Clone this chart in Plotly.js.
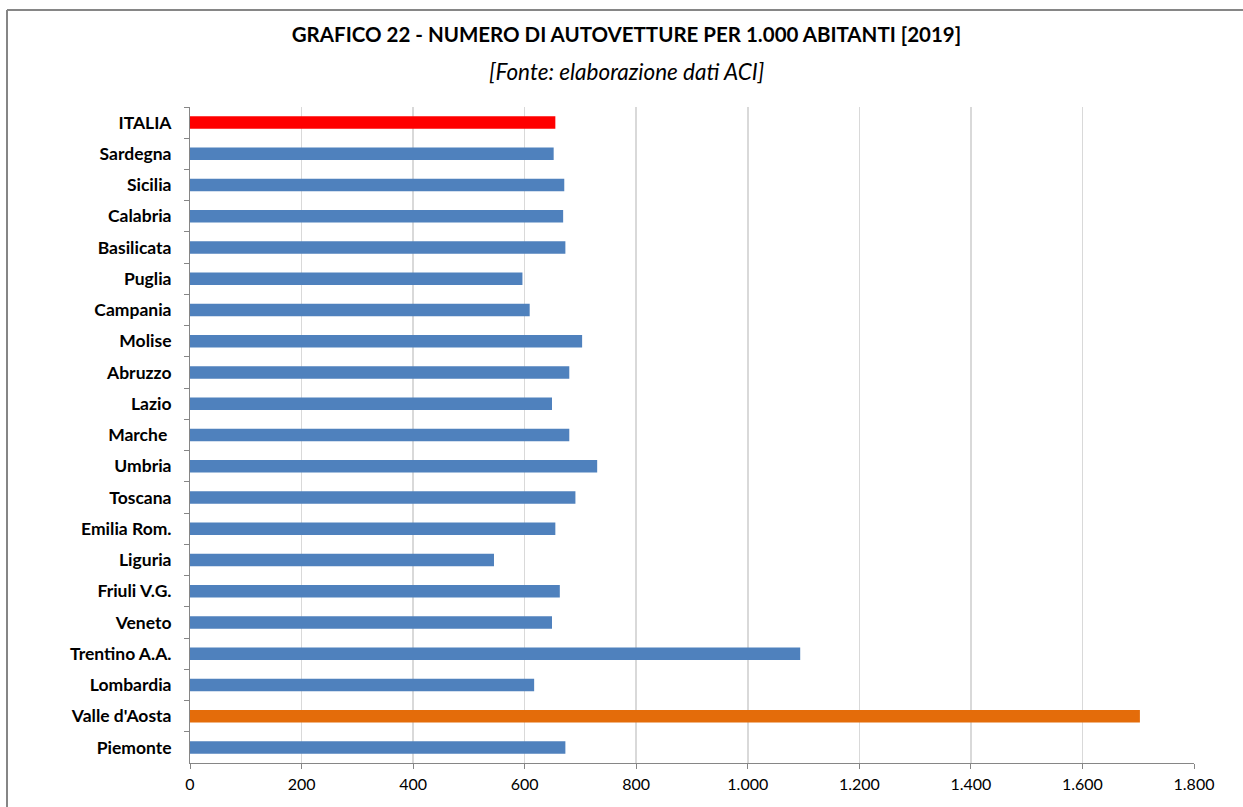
<!DOCTYPE html>
<html>
<head>
<meta charset="utf-8">
<script src="https://cdn.plot.ly/plotly-3.0.1.min.js"></script>
<style>
  html, body { margin: 0; padding: 0; background: #ffffff; }
  #chart { width: 1243px; height: 807px; }
</style>
</head>
<body>
<div id="chart"></div>
<script>
// Categories listed top to bottom, as in the reference
const regions = ["ITALIA", "Sardegna", "Sicilia", "Calabria", "Basilicata", "Puglia", "Campania",
  "Molise", "Abruzzo", "Lazio", "Marche\u00a0", "Umbria", "Toscana", "Emilia Rom.", "Liguria",
  "Friuli V.G.", "Veneto", "Trentino A.A.", "Lombardia", "Valle d'Aosta", "Piemonte"];
const carsPer1000 = [655, 652, 671, 669, 673, 596, 609,
  703, 680, 649, 680, 730, 691, 655, 545,
  663, 649, 1094, 617, 1703, 673];
const barColors = ["#ff0000", "#4f81bd", "#4f81bd", "#4f81bd", "#4f81bd", "#4f81bd", "#4f81bd",
  "#4f81bd", "#4f81bd", "#4f81bd", "#4f81bd", "#4f81bd", "#4f81bd", "#4f81bd", "#4f81bd",
  "#4f81bd", "#4f81bd", "#4f81bd", "#4f81bd", "#e46c0a", "#4f81bd"];
const xTickVals = [0, 200, 400, 600, 800, 1000, 1200, 1400, 1600, 1800];
const xTickText = ["0", "200", "400", "600", "800", "1.000", "1.200", "1.400", "1.600", "1.800"];

const FONT = "Lato, 'Open Sans', sans-serif";

const trace = {
  type: "bar",
  orientation: "h",
  y: regions,
  x: carsPer1000,
  marker: { color: barColors, line: { width: 0 } },
  hoverinfo: "x+y"
};

const layout = {
  width: 1243,
  height: 807,
  paper_bgcolor: "#ffffff",
  plot_bgcolor: "#ffffff",
  margin: { l: 190, r: 49, t: 107, b: 44, pad: 0 },
  showlegend: false,
  bargap: 0.6,
  font: { family: FONT, color: "#000000" },
  title: {
    text: "<b>GRAFICO 22 - NUMERO DI AUTOVETTURE PER 1.000 ABITANTI [2019]</b>",
    font: { family: FONT, size: 20.5, color: "#000000" },
    x: 0.5040, xanchor: "center",
    y: 1 - 35 / 807, yanchor: "middle"
  },
  annotations: [{
    text: "<i>[Fonte: elaborazione dati ACI]</i>",
    xref: "paper", yref: "paper",
    x: (626 - 190) / 1004, y: 1 + (107 - 72) / 656,
    xanchor: "center", yanchor: "middle",
    showarrow: false,
    font: { family: FONT, size: 22.5, color: "#000000" }
  }],
  shapes: [
    { type: "line", xref: "paper", yref: "paper",
      x0: (7 - 190) / 1004, x1: (1260 - 190) / 1004,
      y0: 1 + 97 / 656, y1: 1 + 97 / 656,
      line: { color: "#868686", width: 2 } },
    { type: "line", xref: "paper", yref: "paper",
      x0: (7 - 190) / 1004, x1: (7 - 190) / 1004,
      y0: 1 + 97 / 656, y1: (763 - 830) / 656,
      line: { color: "#868686", width: 2 } }
  ],
  xaxis: {
    range: [0, 1800],
    tickmode: "array",
    tickvals: xTickVals,
    ticktext: xTickText,
    showgrid: true,
    gridcolor: "#d9d9d9",
    gridwidth: 1.5,
    zeroline: false,
    showline: true,
    linecolor: "#868686",
    linewidth: 1,
    ticks: "outside",
    ticklen: 5,
    tickcolor: "#868686",
    ticklabelstandoff: 2,
    tickfont: { family: FONT, size: 16, color: "#000000" },
    fixedrange: true
  },
  yaxis: {
    type: "category",
    autorange: "reversed",
    showgrid: false,
    zeroline: false,
    showline: true,
    linecolor: "#868686",
    linewidth: 1,
    ticks: "outside",
    tickson: "boundaries",
    ticklen: 5,
    tickcolor: "#868686",
    ticklabelstandoff: 14,
    tickfont: { family: FONT, size: 17.5, color: "#000000", weight: "bold" },
    fixedrange: true
  }
};

Plotly.newPlot("chart", [trace], layout, { displayModeBar: false, staticPlot: true });
</script>
</body>
</html>
